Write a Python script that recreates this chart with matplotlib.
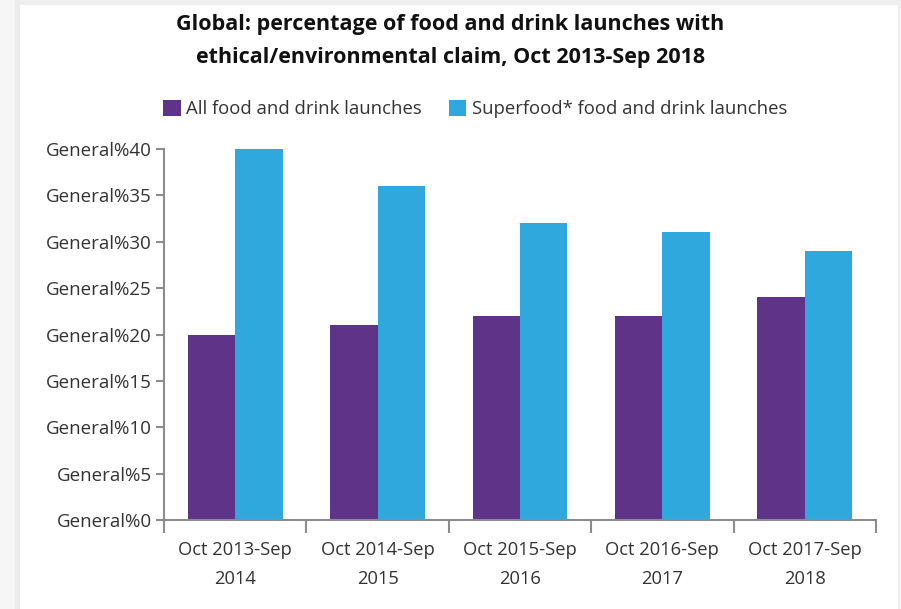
import numpy as np
import matplotlib.pyplot as plt
from matplotlib.patches import Rectangle

plt.rcParams['font.family'] = ['Open Sans', 'DejaVu Sans']

periods = ['Oct 2013-Sep\n2014', 'Oct 2014-Sep\n2015', 'Oct 2015-Sep\n2016',
           'Oct 2016-Sep\n2017', 'Oct 2017-Sep\n2018']
all_launches = [20, 21, 22, 22, 24]
superfood_launches = [40, 36, 32, 31, 29]
yticks = [0, 5, 10, 15, 20, 25, 30, 35, 40]
ytick_labels = ['General%' + str(v) for v in yticks]

purple = '#5f3388'
blue = '#2fa8de'
axis_gray = '#8c8c8c'
text_col = '#333333'

fig = plt.figure(figsize=(9.01, 6.09), dpi=100, facecolor='white')

# grey frame around the white panel
fig.patches.append(Rectangle((0, 0), 15 / 901, 1, transform=fig.transFigure,
                             facecolor='#f6f6f6', edgecolor='none', zorder=0))
fig.patches.append(Rectangle((15 / 901, 0), 5 / 901, 1, transform=fig.transFigure,
                             facecolor='#ebebeb', edgecolor='none', zorder=0))
fig.patches.append(Rectangle((20 / 901, 1 - 5 / 609), 1, 5 / 609, transform=fig.transFigure,
                             facecolor='#eeeeee', edgecolor='none', zorder=0))
fig.patches.append(Rectangle((1 - 3 / 901, 0), 3 / 901, 1, transform=fig.transFigure,
                             facecolor='#f0f0f0', edgecolor='none', zorder=0))

ax = fig.add_axes([164 / 901, 1 - 520 / 609, (876 - 164) / 901, (520 - 149) / 609])

x = np.arange(len(periods))
w = 1 / 3
ax.bar(x - w / 2, all_launches, width=w, color=purple, label='All food and drink launches')
ax.bar(x + w / 2, superfood_launches, width=w, color=blue,
       label='Superfood* food and drink launches')

ax.set_xlim(-0.5, len(periods) - 0.5)
ax.set_ylim(0, 40)

for side in ['top', 'right']:
    ax.spines[side].set_visible(False)
for side in ['left', 'bottom']:
    ax.spines[side].set_color(axis_gray)
    ax.spines[side].set_linewidth(1.5)

ax.set_yticks(yticks)
ax.set_yticklabels(ytick_labels)
ax.tick_params(axis='y', length=6, width=1.5, color=axis_gray, labelsize=13.5,
               labelcolor=text_col, pad=3)

ax.set_xticks(x)
ax.set_xticklabels(periods, linespacing=1.8)
ax.tick_params(axis='x', which='major', length=0, labelsize=13.2, labelcolor=text_col, pad=15)
ax.set_xticks(np.arange(len(periods) + 1) - 0.5, minor=True)
ax.tick_params(axis='x', which='minor', length=9, width=1.5, color=axis_gray)

fig.text(0.5, 1 - 41 / 609,
         'Global: percentage of food and drink launches with\nethical/environmental claim, Oct 2013-Sep 2018',
         ha='center', va='center', fontsize=15.5, fontweight='bold', color='#111111',
         linespacing=1.75)

fig.legend(loc='center', bbox_to_anchor=(475 / 901, 1 - 109 / 609), ncol=2, frameon=False,
           fontsize=13.3, handlelength=0.95, handleheight=1.0, handletextpad=0.3,
           columnspacing=1.45, labelcolor=text_col)

fig.savefig('out.png', dpi=100, facecolor=fig.get_facecolor())
